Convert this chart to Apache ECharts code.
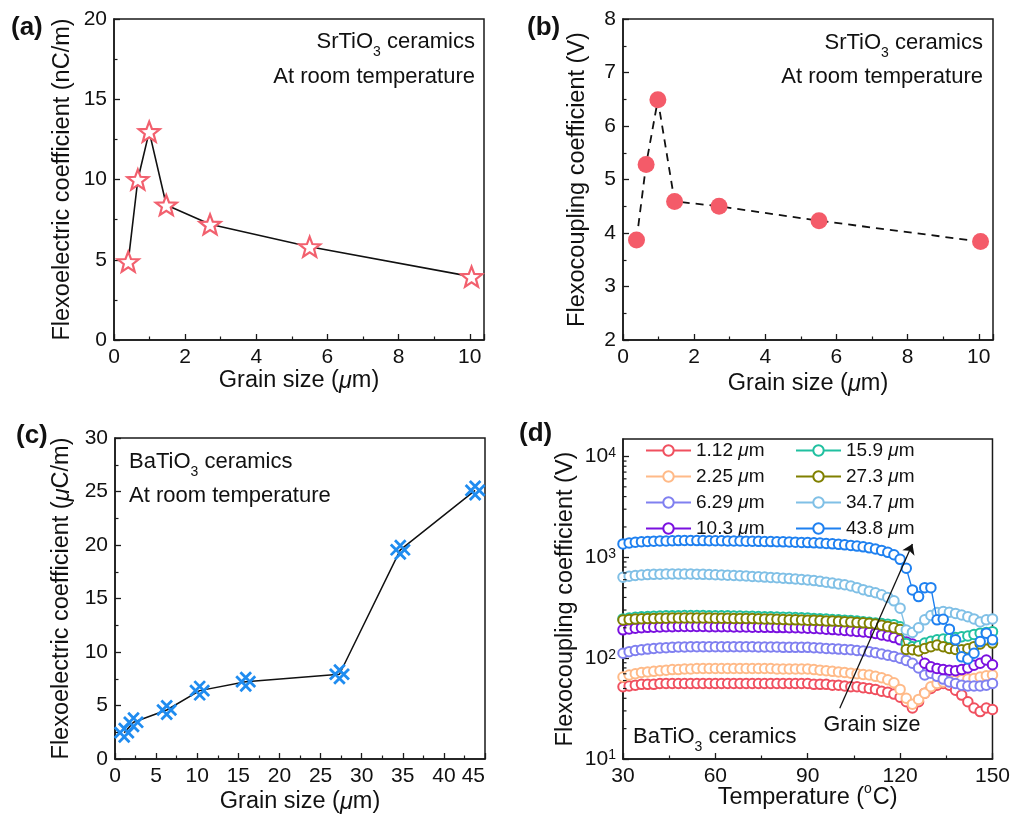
<!DOCTYPE html>
<html><head><meta charset="utf-8">
<script src="https://cdn.jsdelivr.net/npm/echarts@6/dist/echarts.min.js"></script>
<style>html,body{margin:0;padding:0;background:#fff}#c{width:1013px;height:818px}</style>
</head><body><div id="c"></div>
<script>
// ---------- data ----------
const grainA = [0.40, 0.67, 0.99, 1.47, 2.70, 5.50, 10.05];
const flexoA = [4.88, 10.0, 12.98, 8.41, 7.21, 5.81, 3.95];
const grainB = [0.38, 0.65, 0.98, 1.45, 2.70, 5.51, 10.05];
const couplingB = [3.87, 5.28, 6.49, 4.59, 4.50, 4.23, 3.84];
const grainC = [1.12, 2.25, 6.29, 10.3, 15.9, 27.3, 34.7, 43.8];
const flexoC = [2.46, 3.43, 4.58, 6.39, 7.23, 7.92, 19.55, 25.1];

const temps = [30,32,34,36,38,40,42,44,46,48,50,52,54,56,58,60,62,64,66,68,70,72,74,76,78,80,82,84,86,88,90,92,94,96,98,100,102,104,106,108,110,112,114,116,118,120,122,124,126,128,130,132,134,136,138,140,142,144,146,148,150];
const sizeNames = ['1.12 μm','2.25 μm','6.29 μm','10.3 μm','15.9 μm','27.3 μm','34.7 μm','43.8 μm'];
const v1_12 = [52,53,54,55,55,55,56,56,56,56, 56,56,56,56,56,56,56,56,56,56, 56,56,56,56,56,56,56,56,56,56, 56,55,55,55,54,54,53,52,52,51, 50,49,47,46,44,41,37,32,37,45, 50,54,56,54,48,43,37,32,29.5,32, 31];
const v2_25 = [65,68,70,72,73,74,75,76,77,77, 78,78,79,79,79,79,79,79,79,79, 79,79,79,79,79,78,78,78,78,78, 78,77,76,75,74,73,72,71,70,69, 68,66,64,61,57,49,40,35,39,45, 52,56,58,59,60,61,62,63,65,67, 68];
const v6_29 = [112,116,119,121,123,125,126,127,128,129, 129,130,130,130,130,130,130,130,130,130, 130,130,129,129,129,129,128,128,128,128, 128,127,126,125,124,123,122,121,119,118, 116,113,110,107,104,100,95,89,80,68, 71,66,62,58,56,54,53,53,53,54, 56];
const v10_3 = [191,195,198,200,202,203,204,205,205,206, 206,206,206,206,205,205,205,205,204,204, 204,203,203,202,202,201,201,200,200,199, 198,197,196,194,192,190,188,186,184,182, 180,176,170,166,160,152,145,138,122,89, 82,79,77,76,75,77,80,85,89,96, 86];
const v15_9 = [245,250,254,257,259,261,262,263,264,264, 265,265,265,265,264,264,263,263,262,262, 261,260,259,258,257,256,255,254,253,251, 250,248,246,244,242,240,238,236,233,230, 227,223,220,217,215,205,140,130,133,141, 147,152,155,157,160,163,166,172,177,180, 183];
const v27_3 = [239,242,244,246,247,248,249,249,250,250, 250,250,250,250,250,249,249,249,248,248, 247,247,246,245,244,243,242,241,240,239, 238,237,236,234,233,232,230,228,226,224, 222,218,212,206,200,192,122,121,118,125, 130,135,130,125,122,121,124,130,138,152, 141];
const v34_7 = [634,650,660,668,674,678,681,683,684,684, 684,683,681,678,675,672,668,664,660,656, 652,647,642,637,632,627,621,615,609,603, 597,588,578,566,555,545,535,520,500,478, 460,445,425,400,370,313,190,180,200,240, 265,283,290,285,278,268,258,245,228,240, 245];
const v43_8 = [1358,1390,1410,1425,1435,1445,1450,1455,1460,1465, 1466,1466,1465,1464,1462,1460,1458,1455,1452,1450, 1447,1443,1440,1436,1432,1428,1423,1418,1412,1406, 1400,1392,1383,1372,1360,1345,1330,1312,1292,1270, 1242,1210,1170,1120,1060,955,780,475,408,500, 500,240,243,194,152,103,98,112,146,177, 152];
const seriesD = [v1_12, v2_25, v6_29, v10_3, v15_9, v27_3, v34_7, v43_8];
const colorsD = ['#f0505f','#ffba88','#8080f0','#7a10e0','#20c0a0','#808000','#80c0e6','#1e80f0'];
const minorLogTicks = [20,30,40,50,60,70,80,90,200,300,400,500,600,700,800,900,2000,3000,4000,5000,6000,7000,8000,9000];
const arrowD = [[100.4, 31.8], [124, 1358]];

// ---------- styles ----------
const FF = "'Liberation Sans', Arial, Helvetica, sans-serif";
const C = '#1a1a1a';
const NAME_SIZE = 23.5;
const RICH = {
  i: {fontStyle:'italic', fontSize:NAME_SIZE, fontFamily:FF, color:'#111'},
  s: {fontSize:14, fontFamily:FF, color:'#111', verticalAlign:'middle', padding:[0,1,18,0]}
};
function ax(extra) {
  const base = {
    axisLine:{show:true, onZero:false, lineStyle:{color:C, width:1.5}},
    axisTick:{show:true, inside:true, length:6, lineStyle:{color:C, width:1.3}},
    minorTick:{show:true, splitNumber:2, length:3.5, lineStyle:{color:C, width:1.2}},
    splitLine:{show:false}, minorSplitLine:{show:false},
    axisLabel:{color:'#111', fontSize:21, fontFamily:FF, margin:7},
    nameLocation:'middle',
    nameTextStyle:{color:'#111', fontSize:NAME_SIZE, fontFamily:FF, rich:RICH}
  };
  for (const k in extra) {
    if (typeof extra[k] === 'object' && base[k] && !Array.isArray(extra[k])) base[k] = Object.assign({}, base[k], extra[k]);
    else base[k] = extra[k];
  }
  return base;
}
const gridStyle = {show:true, borderColor:C, borderWidth:1.5, backgroundColor:'rgba(0,0,0,0)'};
const starPath = 'path://M50 0 L62.34 33.01 L97.55 34.55 L69.97 56.49 L79.39 90.45 L50 71 L20.61 90.45 L30.03 56.49 L2.45 34.55 L37.66 33.01 Z';
const hatchPath = 'path://M0 22 L78 100 M22 0 L100 78 M0 78 L78 0 M22 100 L100 22';

const textRich = {
  sub: {fontSize:14, fontFamily:FF, color:'#111', verticalAlign:'middle', padding:[21,0,0,0]}
};
function label(x, y, text, align, size, bold) {
  return {type:'text', x:x, y:y, z:100, style:{text:text, align:align, verticalAlign:'middle',
    fontSize:size, fontFamily:FF, fontWeight: bold ? 'bold' : 'normal', fill:'#111', rich:textRich}};
}

const chart = echarts.init(document.getElementById('c'));
const dSeries = seriesD.map((vals, k) => ({
  name: sizeNames[k], type:'line', xAxisIndex:3, yAxisIndex:3,
  data: temps.map((t, j) => [t, vals[j]]),
  symbol:'emptyCircle', symbolSize:9.5, showSymbol:true,
  itemStyle:{color:colorsD[k], borderColor:colorsD[k], borderWidth:1.8},
  lineStyle:{color:colorsD[k], width:1.4},
  emphasis:{disabled:true}, animation:false, z:2+k
}));

const legendText = {fontSize:19, fontFamily:FF, color:'#111', rich:{i:{fontStyle:'italic', fontSize:19, fontFamily:FF, color:'#111'}}};
const legendFmt = n => n.replace('μm', '{i|μ}m');

chart.setOption({
  animation:false,
  backgroundColor:'#fff',
  grid:[
    Object.assign({left:114, top:19, width:370, height:321}, gridStyle),
    Object.assign({left:623, top:19, width:370, height:321}, gridStyle),
    Object.assign({left:115, top:438, width:370, height:321}, gridStyle),
    Object.assign({left:623, top:439, width:370, height:320}, gridStyle)
  ],
  legend:[
    {data:sizeNames.slice(0,4), left:640, top:436, orient:'vertical', itemWidth:45, itemHeight:13, itemGap:7,
     textStyle:legendText, formatter:legendFmt, selectedMode:false},
    {data:sizeNames.slice(4), left:790, top:436, orient:'vertical', itemWidth:45, itemHeight:13, itemGap:7,
     textStyle:legendText, formatter:legendFmt, selectedMode:false}
  ],
  xAxis:[
    ax({gridIndex:0, type:'value', min:0, max:10.4, interval:2, name:'Grain size ({i|μ}m)', nameGap:29,
        axisLabel:{showMaxLabel:false}}),
    ax({gridIndex:1, type:'value', min:0, max:10.4, interval:2, name:'Grain size ({i|μ}m)', nameGap:32,
        axisLabel:{showMaxLabel:false}}),
    ax({gridIndex:2, type:'value', min:0, max:45, interval:5, name:'Grain size ({i|μ}m)', nameGap:31,
        axisLabel:{alignMaxLabel:'right'}}),
    ax({gridIndex:3, type:'value', min:30, max:150, interval:30, name:'Temperature ({s|o}C)', nameGap:23,
        nameMoveOverlap:false})
  ],
  yAxis:[
    ax({gridIndex:0, type:'value', min:0, max:20, interval:5, name:'Flexoelectric coefficient (nC/m)', nameGap:39}),
    ax({gridIndex:1, type:'value', min:2, max:8, interval:1, name:'Flexocoupling coefficient (V)', nameGap:33}),
    ax({gridIndex:2, type:'value', min:0, max:30, interval:5, name:'Flexoelectric coefficient ({i|μ}C/m)', nameGap:41}),
    ax({gridIndex:3, type:'log', logBase:10, min:10, max:14900, name:'Flexocoupling coefficient (V)', nameGap:45,
        minorTick:{show:false},
        axisLabel:{showMaxLabel:false, formatter:v => '10{s|' + Math.round(Math.log10(v)) + '}',
          rich:{s:{fontSize:14, fontFamily:FF, color:'#111', verticalAlign:'top'}}}})
  ],
  series:[
    {type:'line', xAxisIndex:0, yAxisIndex:0, data:grainA.map((x,i)=>[x, flexoA[i]]),
     symbol:starPath, symbolSize:21, symbolKeepAspect:true,
     itemStyle:{color:'#fff', borderColor:'#f2606e', borderWidth:2.2},
     lineStyle:{color:'#111', width:1.6}, z:3},
    {type:'line', xAxisIndex:1, yAxisIndex:1, data:grainB.map((x,i)=>[x, couplingB[i]]),
     symbol:'circle', symbolSize:17,
     itemStyle:{color:'#f45b69', borderWidth:0},
     lineStyle:{color:'#111', width:1.8, type:[8,6]}, z:3},
    {type:'line', xAxisIndex:2, yAxisIndex:2, data:grainC.map((x,i)=>[x, flexoC[i]]),
     symbol:hatchPath, symbolSize:19,
     itemStyle:{color:'rgba(0,0,0,0)', borderColor:'#1f8cf0', borderWidth:2.8},
     lineStyle:{color:'#111', width:1.5}, z:3},
    ...dSeries,
    {type:'custom', xAxisIndex:3, yAxisIndex:3, data:minorLogTicks.map(v => [30, v]), silent:true, z:20,
     renderItem:(params, api) => {
       const p = api.coord([api.value(0), api.value(1)]);
       return {type:'line', shape:{x1:p[0], y1:p[1], x2:p[0]+3.5, y2:p[1]}, style:{stroke:C, lineWidth:1.2}};
     },
     markLine:{silent:true, symbol:['none','arrow'], symbolSize:10, z:30,
       lineStyle:{color:'#111', width:1.3, type:'solid'}, label:{show:false},
       data:[[{coord:arrowD[0]}, {coord:arrowD[1]}]]}
    }
  ],
  graphic:[
    label(11, 28, '(a)', 'left', 26, true),
    label(527, 28, '(b)', 'left', 26, true),
    label(16, 436, '(c)', 'left', 26, true),
    label(519, 434, '(d)', 'left', 26, true),
    label(475, 42, 'SrTiO{sub|3} ceramics', 'right', 22),
    label(475, 77, 'At room temperature', 'right', 22),
    label(983, 43, 'SrTiO{sub|3} ceramics', 'right', 22),
    label(983, 77, 'At room temperature', 'right', 22),
    label(129, 462, 'BaTiO{sub|3} ceramics', 'left', 22),
    label(129, 496, 'At room temperature', 'left', 22),
    label(633, 737, 'BaTiO{sub|3} ceramics', 'left', 22),
    label(872, 725, 'Grain size', 'center', 21.5)
  ]
});
</script></body></html>
